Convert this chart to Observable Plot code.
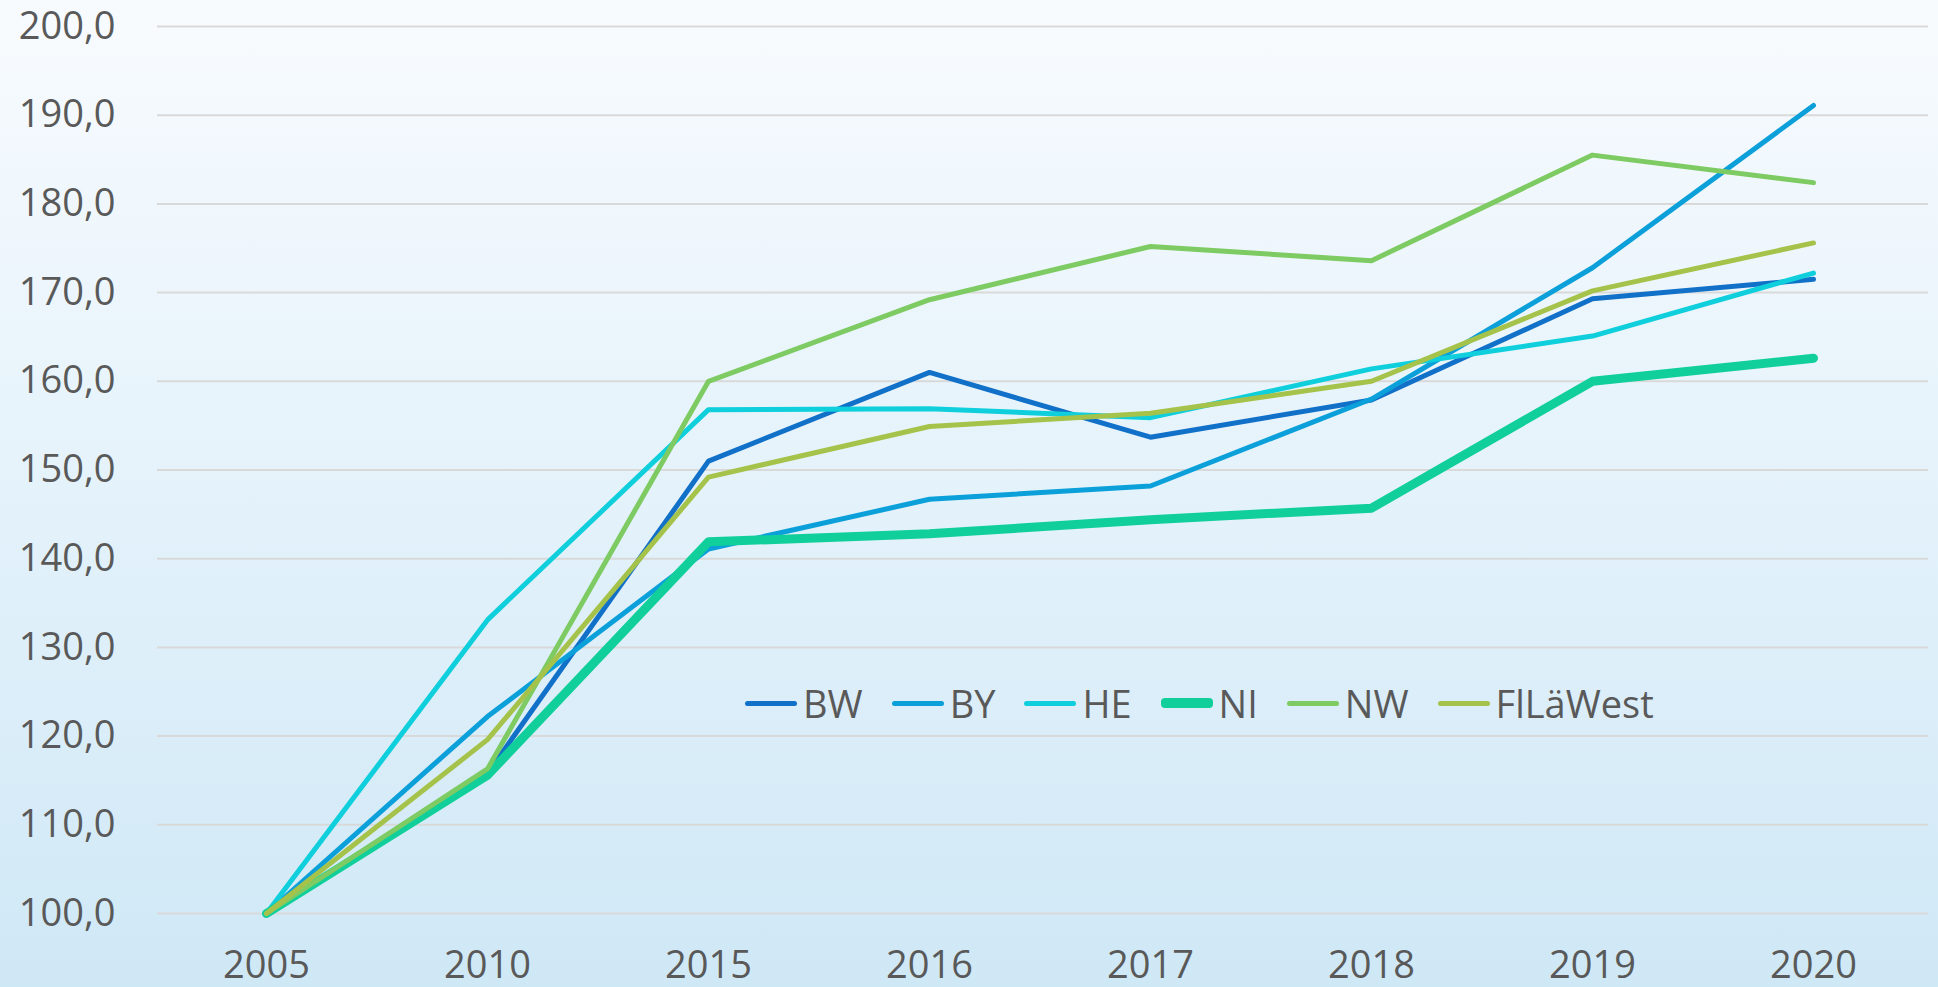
<!DOCTYPE html>
<html>
<head>
<meta charset="utf-8">
<script src="https://cdn.jsdelivr.net/npm/d3@7"></script>
<script src="https://cdn.jsdelivr.net/npm/@observablehq/plot@0.6"></script>
<style>
  html, body { margin: 0; padding: 0; }
  body {
    width: 1938px; height: 987px; overflow: hidden; position: relative;
    background: linear-gradient(to bottom, #f8fbfe 0%, #e6f3fb 45%, #cfe8f6 100%);
    font-family: "Open Sans", sans-serif;
  }
  #chart { position: absolute; left: 0; top: 0; }
  #legend {
    position: absolute; top: 681px; left: 745px; height: 44px;
    display: flex; align-items: center; gap: 29px;
    font-family: "Open Sans", sans-serif; font-size: 38px; color: #595959;
  }
  .item { display: flex; align-items: center; gap: 6px; }
  .sw { width: 52px; border-radius: 4px; }
</style>
</head>
<body>
<div id="chart"></div>
<div id="legend"></div>
<script>
const years = ["2005", "2010", "2015", "2016", "2017", "2018", "2019", "2020"];
const seriesNames = ["BW", "BY", "HE", "NI", "NW", "FlLäWest"];
const colors = ["#1170c8", "#0ba0d9", "#0ecfdb", "#10cf9b", "#7dcb62", "#a5c34a"];
const widths = [5, 5, 5, 9, 5, 5];
const BW = [100, 115.8, 151.0, 161.0, 153.7, 157.9, 169.3, 171.5];
const BY = [100, 122.2, 141.1, 146.7, 148.2, 158.0, 172.8, 191.1];
const HE = [100, 133.1, 156.8, 156.9, 155.9, 161.4, 165.1, 172.2];
const NI = [100, 115.6, 141.9, 142.8, 144.4, 145.7, 160.0, 162.6];
const NW = [100, 116.3, 160.0, 169.2, 175.2, 173.6, 185.5, 182.4];
const FlLaeWest = [100, 119.6, 149.2, 154.9, 156.4, 160.0, 170.2, 175.6];
const yTicks = [100, 110, 120, 130, 140, 150, 160, 170, 180, 190, 200];

const valuesBySeries = [BW, BY, HE, NI, NW, FlLaeWest];
const seriesData = seriesNames.map((name, i) =>
  years.map((year, j) => ({ series: name, year, value: valuesBySeries[i][j] }))
);

const fmt = d => d.toFixed(1).replace(".", ",");

const chart = Plot.plot({
  width: 1938,
  height: 987,
  marginTop: 26,
  marginBottom: 74,
  marginLeft: 157,
  marginRight: 10,
  style: { background: "transparent", fontFamily: "'Open Sans', sans-serif", fontSize: "38px", color: "#595959", overflow: "visible" },
  x: { type: "point", domain: years, range: [263, 1815], padding: 0, label: null },
  y: { domain: [100, 200], label: null },
  marks: [
    Plot.ruleY(yTicks, { stroke: "#d9d9d9", strokeWidth: 2, strokeOpacity: 1 }),
    Plot.axisY({ ticks: yTicks, tickFormat: fmt, tickSize: 0, tickPadding: 42, label: null, fontSize: 38, fill: "#595959" }),
    Plot.axisX({ tickSize: 0, tickPadding: 38, label: null, fontSize: 38, fill: "#595959" }),
    ...seriesData.map((data, i) =>
      Plot.line(data, {
        x: "year", y: "value",
        stroke: colors[i], strokeWidth: widths[i],
        strokeLinecap: "round", strokeLinejoin: "round"
      })
    )
  ]
});
document.getElementById("chart").appendChild(chart);

const legend = document.getElementById("legend");
seriesNames.forEach((name, i) => {
  const item = document.createElement("div");
  item.className = "item";
  const sw = document.createElement("div");
  sw.className = "sw";
  sw.style.background = colors[i];
  sw.style.height = (i === 3 ? 10 : 5) + "px";
  const label = document.createElement("span");
  label.textContent = name;
  item.appendChild(sw);
  item.appendChild(label);
  legend.appendChild(item);
});
</script>
</body>
</html>
